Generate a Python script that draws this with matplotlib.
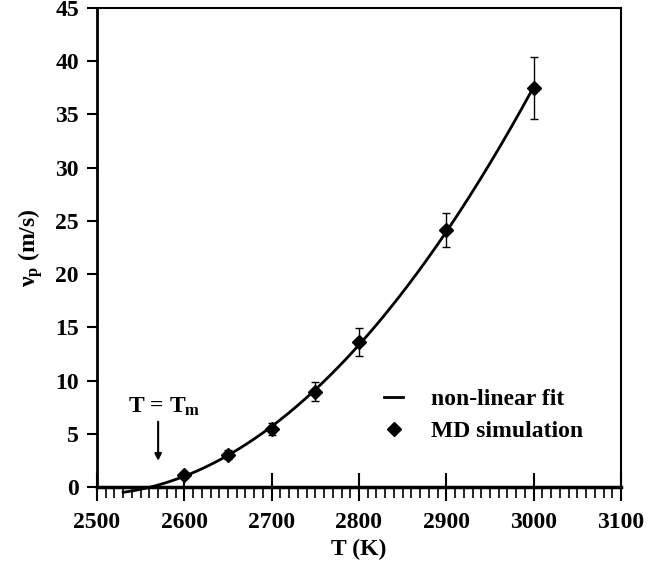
import matplotlib.pyplot as plt
import numpy as np
from matplotlib.ticker import MultipleLocator
from matplotlib.lines import Line2D

plt.rcParams['font.family'] = ['Liberation Serif', 'DejaVu Serif']
plt.rcParams['font.weight'] = 'bold'
plt.rcParams['mathtext.fontset'] = 'custom'
plt.rcParams['mathtext.rm'] = 'Liberation Serif:bold'
plt.rcParams['mathtext.it'] = 'Liberation Serif:bold'

# MD simulation data
temps = [2600, 2650, 2700, 2750, 2800, 2900, 3000]
vel = [1.1, 3.05, 5.45, 8.95, 13.6, 24.1, 37.5]
err = [0.25, 0.4, 0.6, 0.9, 1.3, 1.6, 2.9]

# quadratic fit through the points
coef = np.polyfit(temps, vel, 2)
tfit = np.linspace(2530, 3000, 200)
vfit = np.polyval(coef, tfit)

fs = 17
fig = plt.figure(figsize=(6.72, 5.71), dpi=100)
ax = fig.add_axes([97 / 672, 84 / 571, 524 / 672, 479 / 571])

ax.plot(tfit, vfit, color='black', lw=2, clip_on=False)
ax.errorbar(temps, vel, yerr=err, fmt='D', color='black', ms=7, ecolor='black',
            elinewidth=1, capsize=3, capthick=1)

ax.set_xlim(2500, 3100)
ax.set_ylim(0, 45)
ax.xaxis.set_major_locator(MultipleLocator(100))
ax.xaxis.set_minor_locator(MultipleLocator(10))
ax.yaxis.set_major_locator(MultipleLocator(5))

ax.spines['top'].set_linewidth(1.5)
ax.spines['right'].set_linewidth(1.5)
ax.spines['left'].set_linewidth(2)
ax.spines['bottom'].set_linewidth(2.5)

ax.tick_params(axis='y', direction='out', length=7, width=1.5, labelsize=fs, pad=6)
ax.tick_params(axis='x', which='major', direction='inout', length=20, width=1.5,
               labelsize=fs, pad=8)
ax.tick_params(axis='x', which='minor', direction='out', length=8, width=1.2)

ax.set_xlabel('T (K)', fontsize=fs, fontweight='bold', labelpad=4)
ax.set_ylabel('ν$_\\mathrm{p}$ (m/s)', fontsize=fs, fontweight='bold', labelpad=7)

ax.annotate('', xy=(2570, 2.2), xytext=(2570, 6.4),
            arrowprops=dict(arrowstyle='-|>', color='black', lw=1.5, mutation_scale=10))
ax.text(2535, 7.0, 'T = T$_\\mathrm{m}$', fontsize=fs, fontweight='bold')

handles = [Line2D([], [], color='black', lw=2),
           Line2D([], [], color='black', marker='D', ms=7, lw=0)]
ax.legend(handles, ['non-linear fit', 'MD simulation'], loc='upper left',
          bbox_to_anchor=(0.53, 0.225), frameon=False, handlelength=0.8,
          handletextpad=1.2, labelspacing=0.45, borderaxespad=0,
          prop={'weight': 'bold', 'size': fs})

plt.savefig('out.png', dpi=100)
plt.close()
